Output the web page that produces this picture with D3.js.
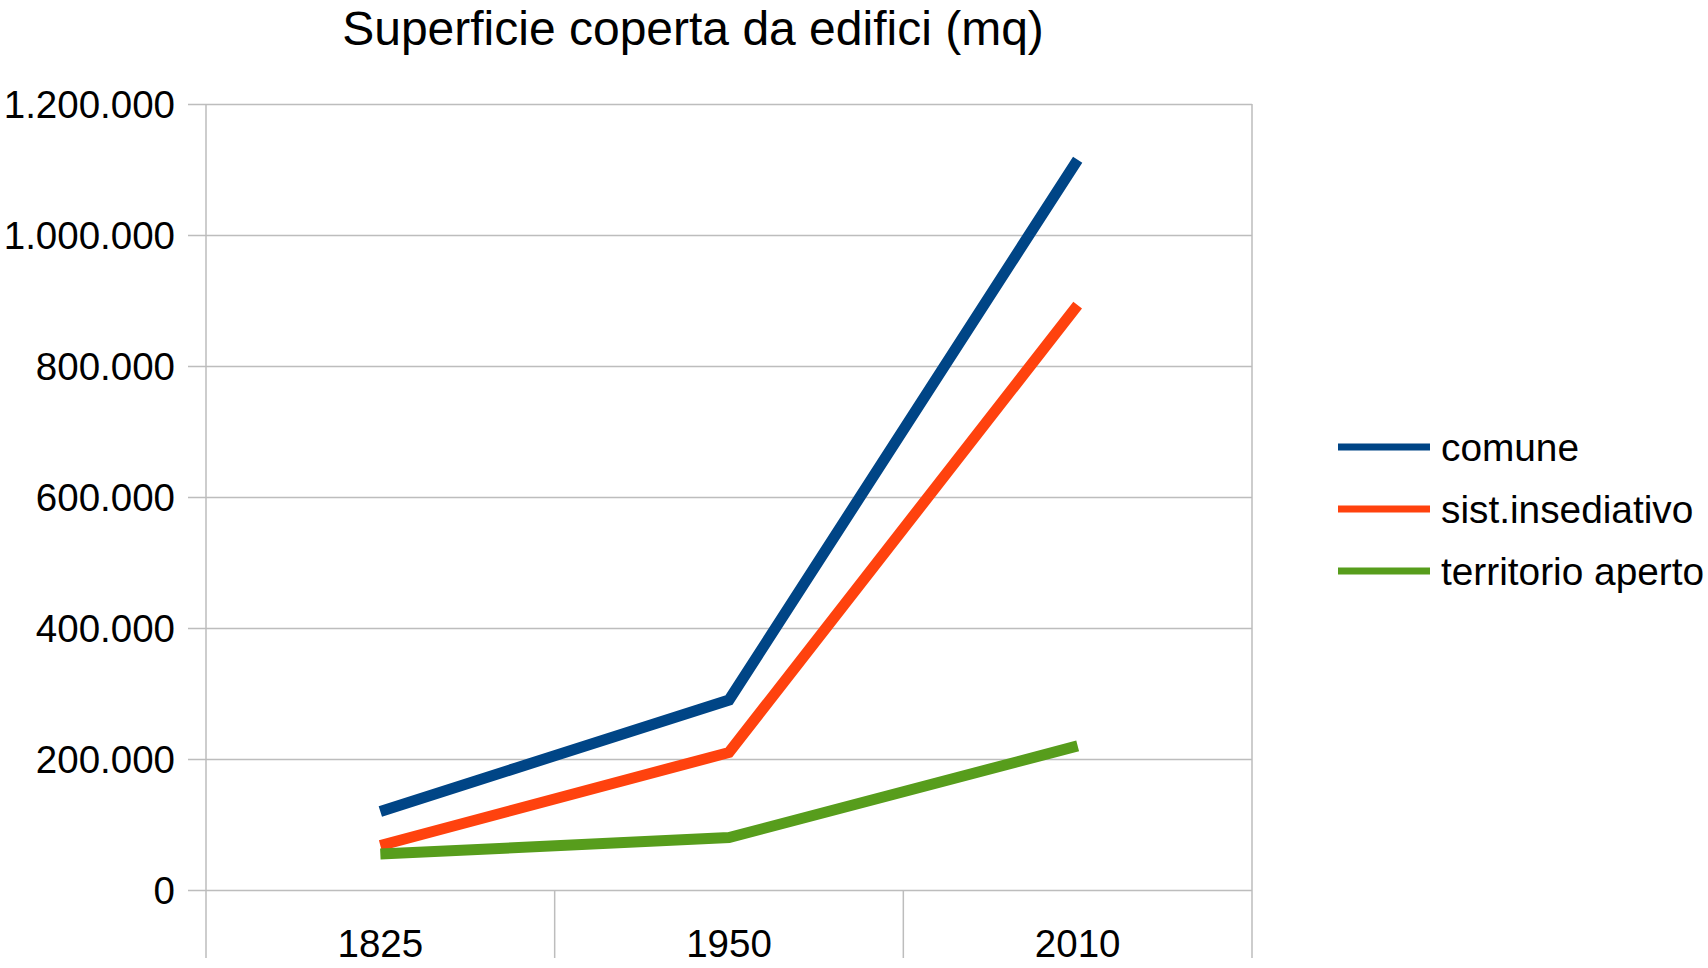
<!DOCTYPE html>
<html>
<head>
<meta charset="utf-8">
<script src="https://cdn.jsdelivr.net/npm/d3@7"></script>
<style>
  html, body { margin: 0; padding: 0; background: #fff; }
  svg { display: block; font-family: "Liberation Sans", Arial, sans-serif; }
</style>
</head>
<body>
<svg id="chart" width="1708" height="968"></svg>
<script>
// ---- data ----
const title = "Superficie coperta da edifici (mq)";
const categories = ["1825", "1950", "2010"];
const seriesNames = ["comune", "sist.insediativo", "territorio aperto"];
const seriesColors = ["#004586", "#ff420e", "#579d1c"];
const comune = [120000, 290000, 1115000];
const sistInsediativo = [68000, 210000, 893000];
const territorioAperto = [55000, 80000, 220000];
const yTicks = [0, 200000, 400000, 600000, 800000, 1000000, 1200000];

const seriesValues = [comune, sistInsediativo, territorioAperto];

// ---- layout ----
const svg = d3.select("#chart");
const plot = { left: 206, right: 1252, top: 104, bottom: 890 };
const axisBottomEnd = 958;
const gridColor = "#bdbdbd";
const gridWidth = 1.5;

const x = d3.scaleBand().domain(categories).range([plot.left, plot.right]).padding(0);
const y = d3.scaleLinear().domain([0, 1200000]).range([plot.bottom, plot.top]);

const it = d3.formatLocale({ decimal: ",", thousands: ".", grouping: [3], currency: ["", "€"] });
const fmt = it.format(",d");

// horizontal gridlines + y axis
const yAxis = d3.axisLeft(y).tickValues(yTicks).tickFormat(fmt)
  .tickSizeInner(-(plot.right - plot.left)).tickSizeOuter(0).tickPadding(0);
const gy = svg.append("g").attr("transform", `translate(${plot.left},0)`).call(yAxis);
gy.select(".domain").remove();
gy.selectAll(".tick line").attr("stroke", gridColor).attr("stroke-width", gridWidth).attr("x1", -18);
gy.selectAll(".tick text")
  .attr("x", -31).attr("dy", "0.36em")
  .attr("fill", "#000").attr("font-size", 38.5)
  .attr("font-family", "Liberation Sans, Arial, sans-serif");

// plot edges (full height) and category separators (below the axis only)
const edges = categories.map(c => x(c)).concat([x(categories[categories.length - 1]) + x.bandwidth()]);
svg.append("g").selectAll("line").data(edges).join("line")
  .attr("x1", d => d).attr("x2", d => d)
  .attr("y1", (d, i) => (i === 0 || i === edges.length - 1) ? plot.top : plot.bottom)
  .attr("y2", axisBottomEnd)
  .attr("stroke", gridColor).attr("stroke-width", gridWidth);

// x labels
const xAxis = d3.axisBottom(x).tickSize(0).tickPadding(0);
const gx = svg.append("g").attr("transform", `translate(0,${plot.bottom})`).call(xAxis);
gx.select(".domain").remove();
gx.selectAll(".tick text")
  .attr("y", 67).attr("dy", 0)
  .attr("fill", "#000").attr("font-size", 38.5)
  .attr("font-family", "Liberation Sans, Arial, sans-serif");

// lines
const line = d3.line()
  .x((d, i) => x(categories[i]) + x.bandwidth() / 2)
  .y(d => y(d));
svg.append("g").selectAll("path").data(seriesValues).join("path")
  .attr("d", d => line(d))
  .attr("fill", "none")
  .attr("stroke", (d, i) => seriesColors[i])
  .attr("stroke-width", 11)
  .attr("stroke-linecap", "butt")
  .attr("stroke-linejoin", "miter");

// title
svg.append("text")
  .attr("x", 693).attr("y", 45)
  .attr("text-anchor", "middle")
  .attr("font-size", 48)
  .attr("fill", "#000")
  .text(title);

// legend
const legendY = d3.scalePoint().domain(seriesNames).range([447, 571]);
const lg = svg.append("g").selectAll("g").data(seriesNames).join("g")
  .attr("transform", d => `translate(0,${legendY(d)})`);
lg.append("line")
  .attr("x1", 1338).attr("x2", 1430).attr("y1", 0).attr("y2", 0)
  .attr("stroke", (d, i) => seriesColors[i]).attr("stroke-width", 7);
lg.append("text")
  .attr("x", 1441).attr("dy", "0.36em")
  .attr("font-size", 38.8).attr("fill", "#000")
  .text(d => d);
</script>
</body>
</html>
